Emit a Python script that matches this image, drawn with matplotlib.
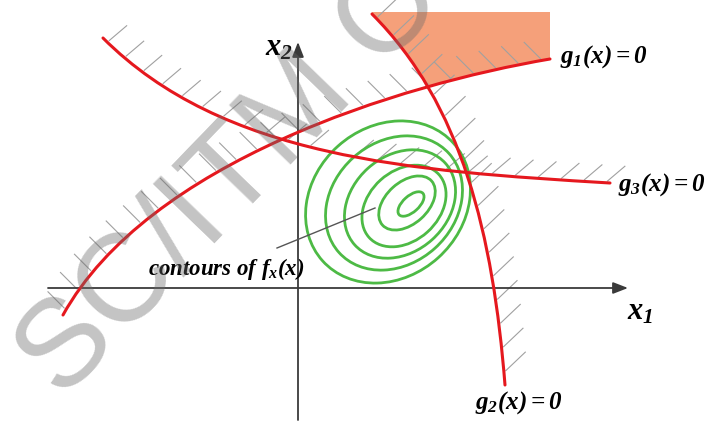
import numpy as np
import matplotlib
matplotlib.use("Agg")
import matplotlib.pyplot as plt
from matplotlib.path import Path
from matplotlib.patches import PathPatch, Ellipse
from matplotlib.bezier import BezierSegment
from matplotlib.collections import LineCollection

plt.rcParams["mathtext.fontset"] = "custom"
plt.rcParams["mathtext.it"] = "Liberation Serif:italic:bold"
plt.rcParams["mathtext.rm"] = "Liberation Serif:italic:bold"
plt.rcParams["mathtext.bf"] = "Liberation Serif:italic:bold"

# constraint boundaries g_i(x) = 0, cubic bezier control points in (x1, x2)
g1_ctrl = [(-235, -27), (-150, 126), (102, 203.5), (252, 229)]
g2_ctrl = [(74, 274), (164, 184), (195, 53), (207, -97)]
g3_ctrl = [(-195, 250), (-75, 130), (112, 117), (312, 105)]

# level sets of the objective, innermost first
cont_cx = [113, 109, 106, 102, 96, 90]
cont_cy = [84, 85, 82, 84, 85, 86]
cont_a = [16, 33, 47, 61, 74, 88]
cont_b = [8, 21, 35, 48, 61, 75]
cont_angle = 42

# shaded corner region (top and right edges)
box_top = 276
box_right = 252

RED = "#E5181E"
GREEN = "#4DBA45"
ORANGE = "#F5A07A"
HATCH = "#a0a0a0"
AXIS = "#3a3a3a"

fig = plt.figure(figsize=(7.08, 4.22), dpi=100)
ax = fig.add_axes([0, 0, 1, 1])
ax.set_xlim(-298, 410)
ax.set_ylim(-134, 288)
ax.axis("off")

CURVE = [Path.MOVETO, Path.CURVE4, Path.CURVE4, Path.CURVE4]

# shaded region: above g1 and right of g2
above_g1 = Path(g1_ctrl + [(box_right, box_top), (-300, box_top), (-300, -27), g1_ctrl[0]],
                CURVE + [Path.LINETO, Path.LINETO, Path.LINETO, Path.CLOSEPOLY])
right_g2 = Path(g2_ctrl + [(420, -97), (420, box_top + 20), (74, box_top + 20), g2_ctrl[0]],
                CURVE + [Path.LINETO, Path.LINETO, Path.LINETO, Path.CLOSEPOLY])
shade = PathPatch(above_g1, facecolor=ORANGE, edgecolor="none", zorder=1)
ax.add_patch(shade)
shade.set_clip_path(right_g2, ax.transData)


def hatch(ctrl, direction, spacing, length, offset=6):
    seg = BezierSegment(np.array(ctrl, float))
    pts = seg(np.linspace(0, 1, 800))
    d = np.r_[0, np.cumsum(np.hypot(*np.diff(pts, axis=0).T))]
    s = np.arange(offset, d[-1], spacing)
    xs = np.interp(s, d, pts[:, 0])
    ys = np.interp(s, d, pts[:, 1])
    u = np.array(direction, float) / np.hypot(*direction)
    segs = [[(x + 2 * u[0], y + 2 * u[1]), (x + length * u[0], y + length * u[1])]
            for x, y in zip(xs, ys)]
    ax.add_collection(LineCollection(segs, colors=HATCH, linewidths=0.8, zorder=1.5))


hatch(g1_ctrl, (-1, 1), 23, 26)
hatch(g2_ctrl, (1, 0.95), 24, 30)
hatch(g3_ctrl, (1, 0.85), 23, 26)

# objective contours
for cx, cy, a, b in zip(cont_cx, cont_cy, cont_a, cont_b):
    ax.add_patch(Ellipse((cx, cy), 2 * a, 2 * b, angle=cont_angle, fill=False,
                         edgecolor=GREEN, lw=2, zorder=2))

# constraint curves
for ctrl in (g1_ctrl, g2_ctrl, g3_ctrl):
    ax.add_patch(PathPatch(Path(ctrl, CURVE), facecolor="none", edgecolor=RED,
                           lw=2.2, zorder=3, capstyle="round"))

# coordinate axes
arrow = dict(arrowstyle="-|>,head_length=0.9,head_width=0.35", color=AXIS, lw=1.3,
             shrinkA=0, shrinkB=0, mutation_scale=10)
ax.annotate("", xy=(330, 0), xytext=(-250, 0), arrowprops=arrow, zorder=2.5)
ax.annotate("", xy=(0, 246), xytext=(0, -132), arrowprops=arrow, zorder=2.5)

ax.text(-33, 241, r"$x_2$", fontsize=22, va="center", ha="left")
ax.text(329, -23, r"$x_1$", fontsize=22, va="center", ha="left")

ax.text(262, 231, r"$g_1(x) = 0$", fontsize=18, va="center", ha="left")
ax.text(177, -115, r"$g_2(x) = 0$", fontsize=18, va="center", ha="left")
ax.text(320, 103, r"$g_3(x) = 0$", fontsize=18, va="center", ha="left")

ax.plot([-21, 77], [40, 80], color="#555555", lw=1, zorder=2.5)
ax.text(-150, 13, r"contours of $f_x(x)$", fontsize=16.5, va="baseline", ha="left",
        family="Liberation Serif", style="italic", weight="bold")

# watermark
ax.text(-236, -113, "SC/ITM O", rotation=46, rotation_mode="anchor", ha="left",
        va="baseline", fontsize=90, family="Liberation Sans",
        color="#6a6a6a", alpha=0.4, zorder=10)

fig.savefig("out.png", dpi=100)
